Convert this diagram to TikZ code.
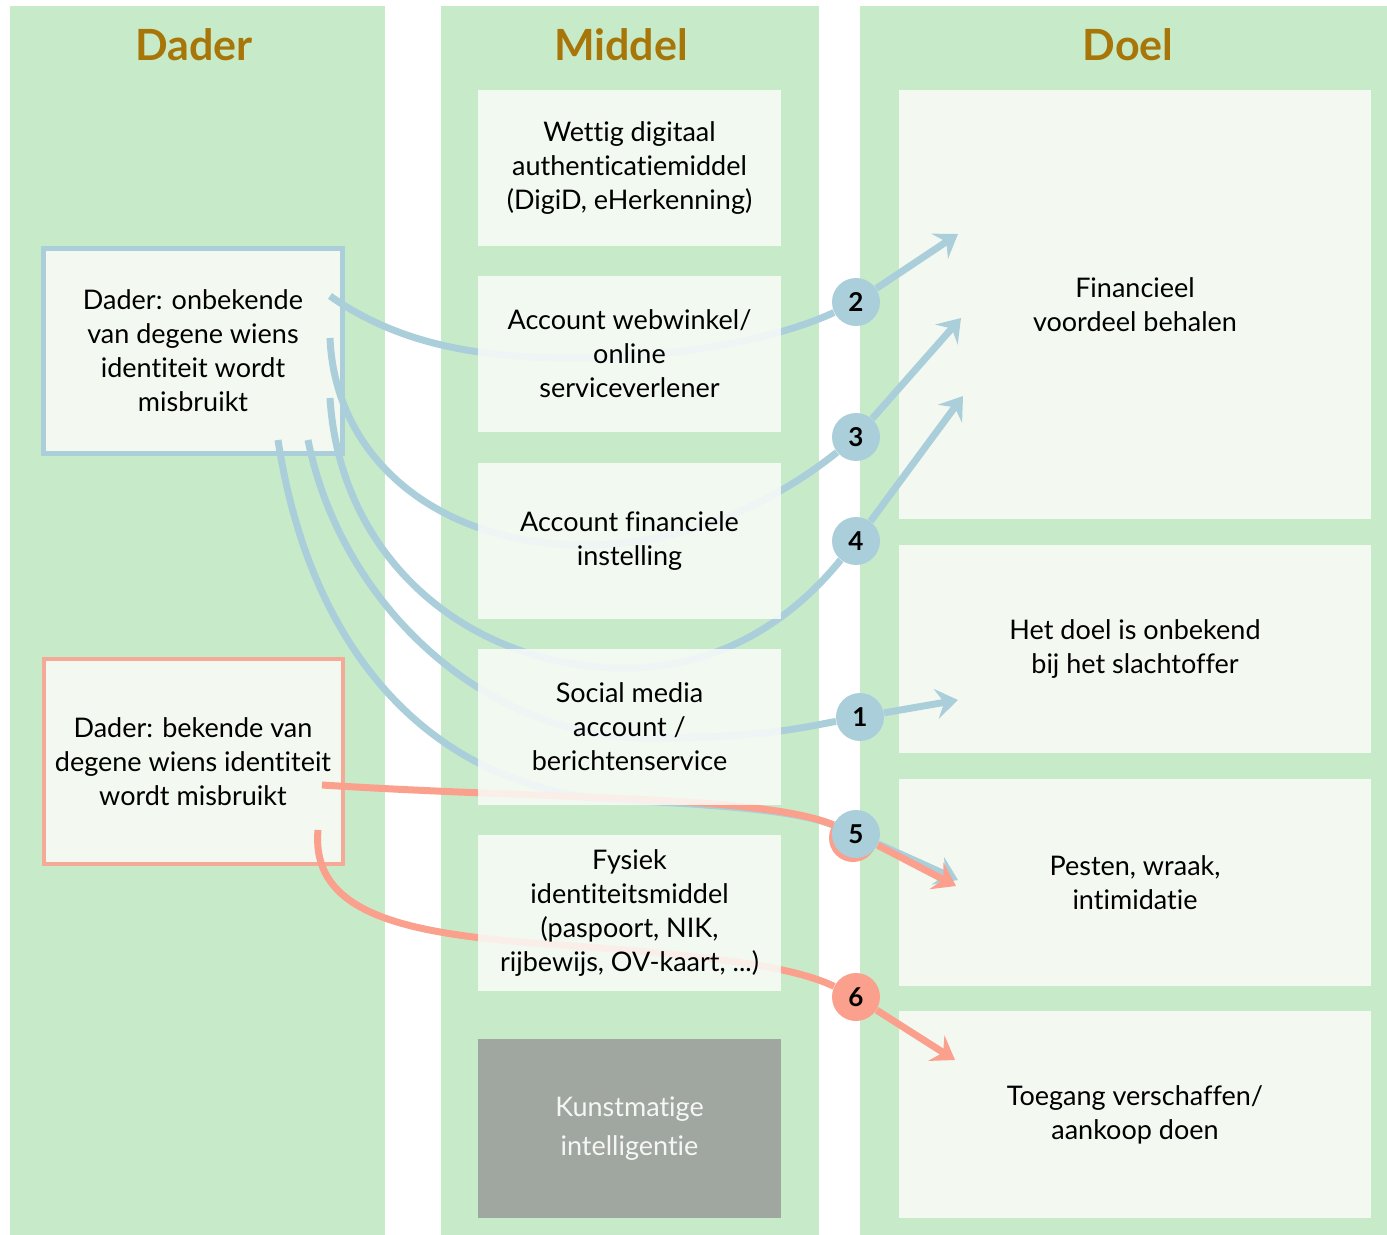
\documentclass[tikz,border=0pt]{standalone}
\usepackage{fontspec}
\setmainfont{Lato}[Ligatures=NoCommon]
\usetikzlibrary{arrows.meta}

\definecolor{kolomgroen}{RGB}{199,235,201}
\definecolor{vakwit}{RGB}{243,249,241}
\definecolor{kopkleur}{RGB}{168,118,8}
\definecolor{lijnblauw}{RGB}{170,207,219}
\definecolor{lijnrood}{RGB}{250,160,140}
\definecolor{randrood}{RGB}{244,170,150}
\definecolor{aigrijs}{RGB}{160,166,160}

\tikzset{
  kop/.style={text=kopkleur,font=\fontsize{21.5}{25}\selectfont\bfseries},
  tekst/.style={align=center,inner sep=0pt,font=\fontsize{13.5}{17}\selectfont},
  middel/.style={tekst,fill=white!55!vakwit,fill opacity=0.85,text opacity=1,
    minimum width=151.5pt,minimum height=78pt},
  doel/.style={tekst,fill=vakwit,minimum width=236pt},
  dader/.style={tekst,fill=vakwit,line width=2.5pt,minimum width=149.5pt,minimum height=102.5pt},
  nummer/.style={circle,fill=lijnblauw,minimum size=24pt,inner sep=0pt,
    font=\fontsize{13}{13}\selectfont\bfseries},
  blauwlijn/.style={draw=lijnblauw,line width=3.5pt},
  roodlijn/.style={draw=lijnrood,line width=3.5pt},
  pijl/.style={-{Stealth[length=11pt,width=15pt,inset=4pt]}}
}

\begin{document}
\begin{tikzpicture}[x=0.5pt,y=-0.5pt]
        \useasboundingbox (0,0) rectangle (1387,1235);

        % kolommen
        \fill[kolomgroen] (10,6) rectangle (385,1235);
        \fill[kolomgroen] (441,6) rectangle (819,1235);
        \fill[kolomgroen] (860,6) rectangle (1387,1235);

        \node[kop] (kdader) at (194,45) {Dader};
        \node[kop] (kmiddel) at (621,45) {Middel};
        \node[kop] (kdoel) at (1128,45) {Doel};

        % doelen
        \node[doel,minimum height=214.5pt] (doel1) at (1135,304.5) {Financieel\\voordeel behalen};
        \node[doel,minimum height=104pt] (doel2) at (1135,649) {Het doel is onbekend\\bij het slachtoffer};
        \node[doel,minimum height=103.5pt] (doel3) at (1135,882.5) {Pesten, wraak,\\intimidatie};
        \node[doel,minimum height=103.5pt] (doel4) at (1135,1114.5) {Toegang verschaffen/\\aankoop doen};

        % daders
        \node[dader,draw=lijnblauw] (onbekend) at (193,351) {Dader: onbekende\\van degene wiens\\identiteit wordt\\misbruikt};
        \node[dader,draw=randrood,line width=2pt] (bekend) at (193,761.5) {Dader: bekende van\\degene wiens identiteit\\wordt misbruikt};

        % nummers
        \node[nummer] (n2) at (856,302) {2};
        \node[nummer] (n3) at (856,437) {3};
        \node[nummer] (n4) at (856,541) {4};
        \node[nummer] (n1) at (860,717) {1};
        \node[nummer,fill=lijnrood] (n5r) at (853,838) {};
        \node[nummer] (n5) at (856,834) {5};
        \node[nummer,fill=lijnrood] (n6) at (856,997) {6};

        \coordinate (s1) at (308,440);
        \coordinate (s2) at (330,296);
        \coordinate (s3) at (330,338);
        \coordinate (s4) at (330,398);
        \coordinate (s5) at (278,440);
        \coordinate (s5r) at (322,785);
        \coordinate (s6) at (318,830);
        \coordinate (t1) at (958,700);
        \coordinate (t2) at (958,234);
        \coordinate (t3) at (961,318);
        \coordinate (t4) at (963,396);
        \coordinate (t5) at (958,880);
        \coordinate (t5r) at (956,886);
        \coordinate (t6) at (955,1060);

        % lijnen
        \draw[blauwlijn] (s2) .. controls (400,345) and (480,358) .. (575,358) .. controls (680,358) and (780,338) .. (n2);
        \draw[blauwlijn] (s3) .. controls (335,460) and (440,545) .. (585,545) .. controls (700,545) and (790,490) .. (n3);
        \draw[blauwlijn] (s4) .. controls (340,560) and (470,668) .. (625,668) .. controls (730,668) and (800,610) .. (n4);
        \draw[blauwlijn] (s1) .. controls (340,600) and (480,738) .. (650,738) .. controls (760,738) and (800,728) .. (n1);
        \draw[blauwlijn] (s5) .. controls (310,650) and (430,790) .. (620,800) .. controls (740,806) and (800,812) .. (n5);
        \draw[roodlijn] (s5r) .. controls (560,800) and (760,795) .. (n5);
        \draw[roodlijn] (s6) .. controls (310,920) and (420,935) .. (560,945) .. controls (700,955) and (790,965) .. (n6);

        \draw[blauwlijn,pijl] (n2) -- (t2);
        \draw[blauwlijn,pijl] (n3) -- (t3);
        \draw[blauwlijn,pijl] (n4) -- (t4);
        \draw[blauwlijn,pijl] (n1) -- (t1);
        \draw[blauwlijn,pijl] (n5) -- (t5);
        \draw[roodlijn,pijl] (n5) -- (t5r);
        \draw[roodlijn,pijl] (n6) -- (t6);

        % middelen
        \node[middel] (m1) at (629.5,168) {Wettig digitaal\\authenticatiemiddel\\(DigiD, eHerkenning)};
        \node[middel] (m2) at (629.5,354) {Account webwinkel/\\online\\serviceverlener};
        \node[middel] (m3) at (629.5,541) {Account financiele\\instelling};
        \node[middel] (m4) at (629.5,727) {Social media\\account /\\berichtenservice};
        \node[middel] (m5) at (629.5,913) {Fysiek\\identiteitsmiddel\\(paspoort, NIK,\\rijbewijs, OV-kaart, ...)};
        \node[middel,fill=aigrijs,fill opacity=1,minimum height=89.5pt,text=white!90!aigrijs,
          font=\fontsize{13.5}{19.5}\selectfont] (m6) at (629.5,1128.5) {Kunstmatige\\intelligentie};

\end{tikzpicture}
\end{document}
